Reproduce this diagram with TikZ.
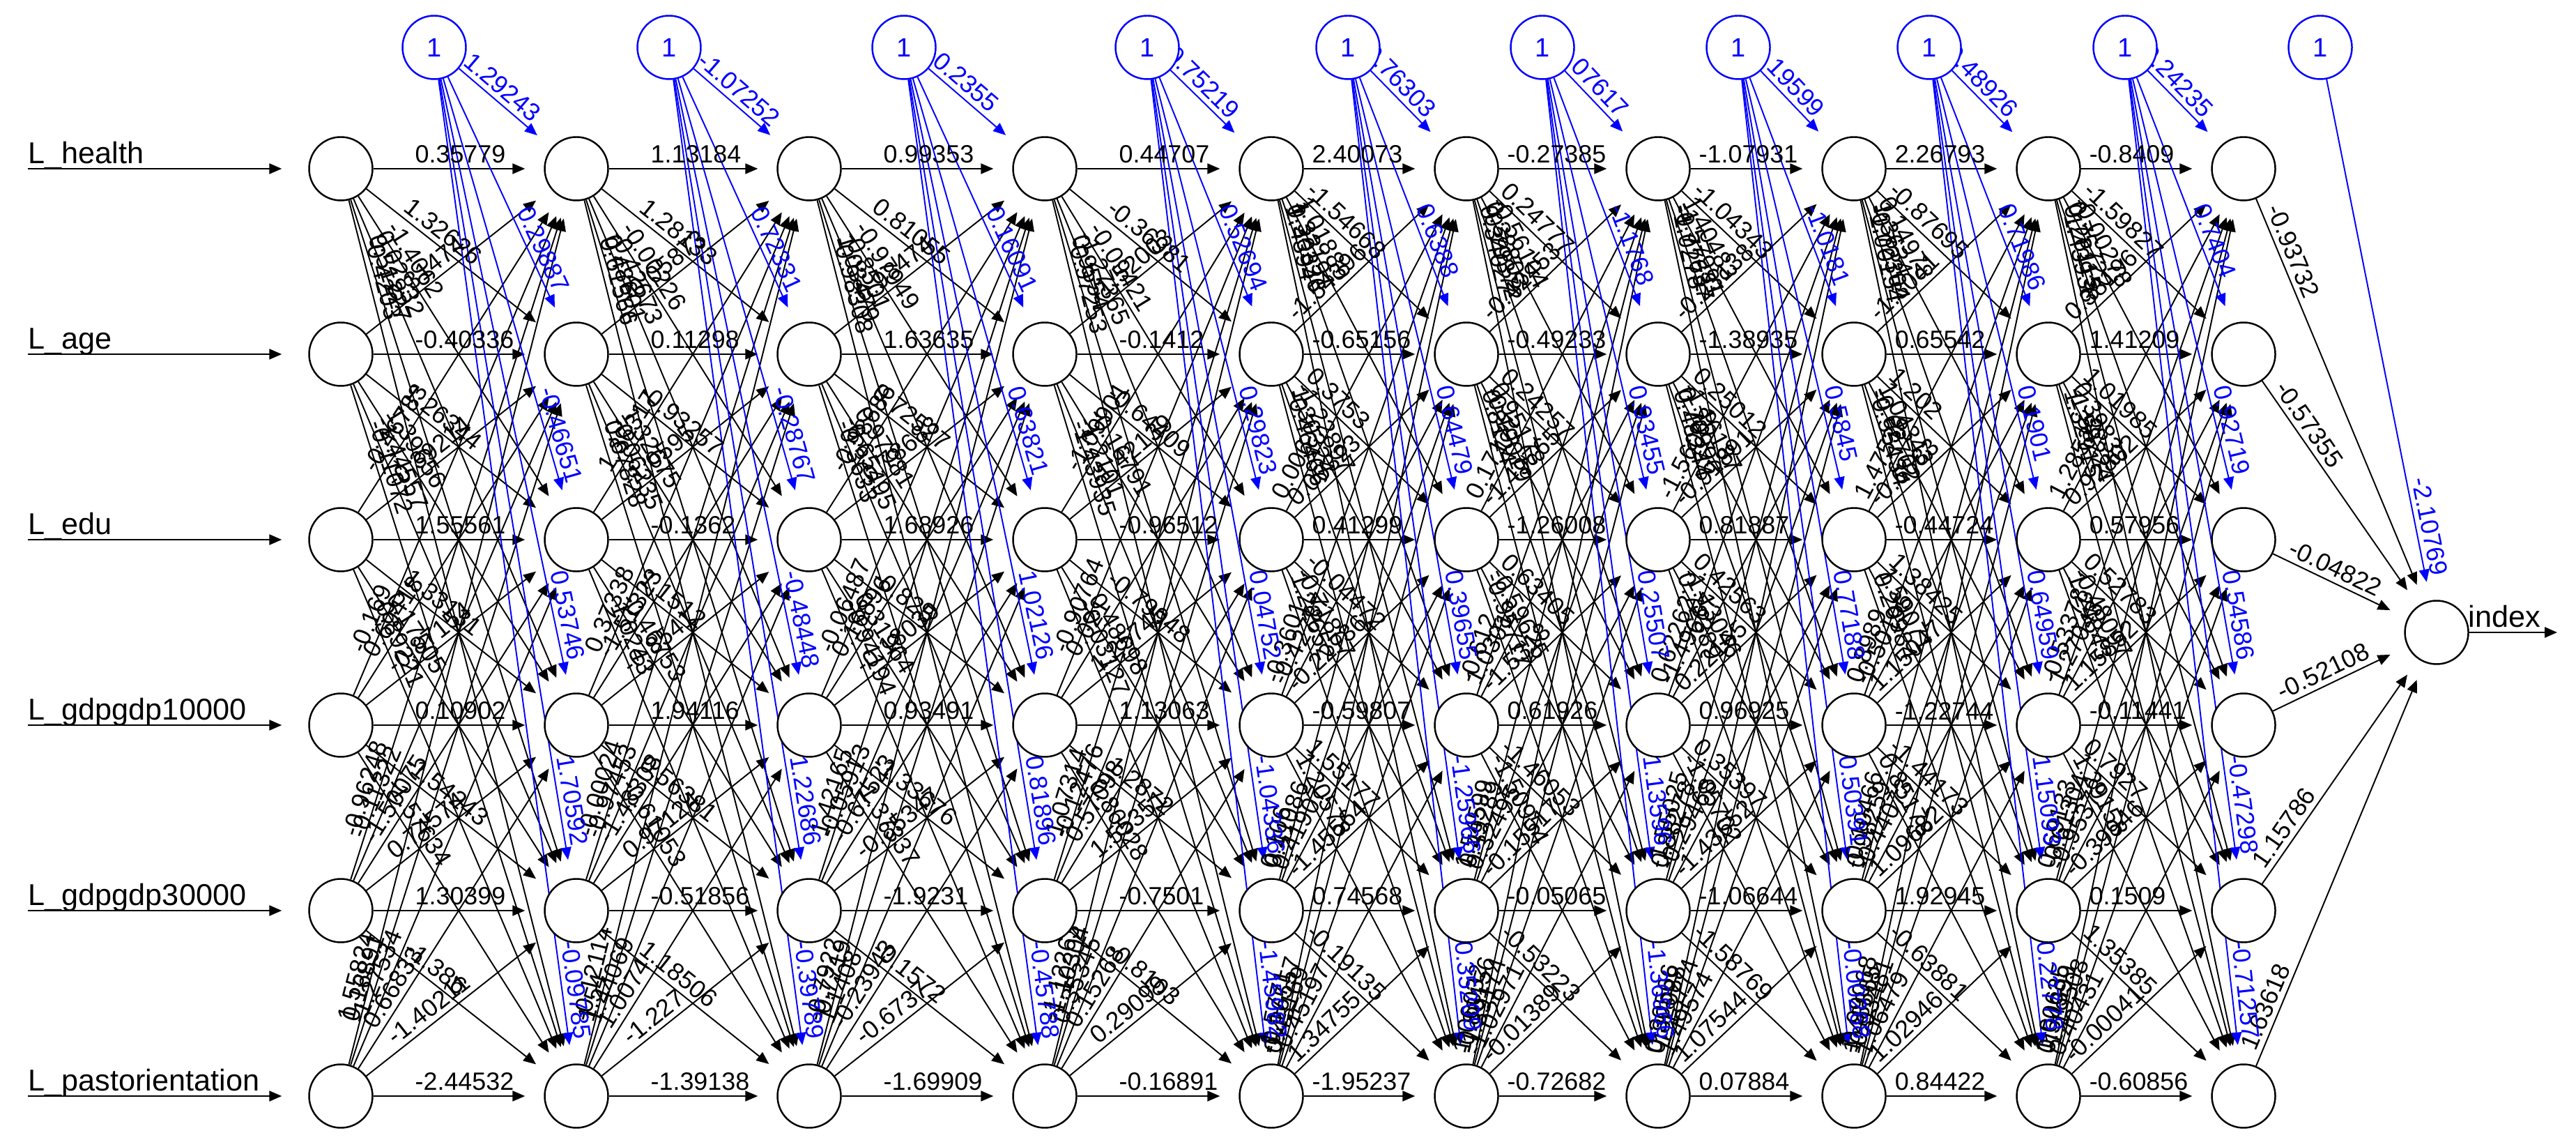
\documentclass[tikz,border=0pt]{standalone}
\usepackage{fontspec}
\setmainfont{Liberation Sans}
\usetikzlibrary{arrows.meta}
\pgfdeclarelayer{bg}
\pgfsetlayers{bg,main}
\tikzset{
  neuron/.style={circle, draw=black, fill=white, line width=0.7pt, minimum size=0.91cm, inner sep=0pt},
  biasnode/.style={circle, draw=blue, fill=white, line width=0.7pt, minimum size=0.91cm, inner sep=0pt, text=blue, font=\fontsize{10.8}{12}\selectfont},
  syn/.style={draw=black, line width=0.55pt, -{Triangle[length=0.18cm,width=0.15cm]}, shorten >=0.27cm},
  bsyn/.style={syn, draw=blue},
  inarrow/.style={draw=black, line width=0.65pt, -{Triangle[length=0.18cm,width=0.15cm]}, shorten >=0.38cm},
  wlab/.style={font=\fontsize{10.2}{11}\selectfont, inner xsep=0pt, inner ysep=0.07cm, anchor=south west},
  blab/.style={wlab, text=blue},
  inlab/.style={font=\fontsize{12.3}{14}\selectfont, anchor=base west, inner sep=0pt},
}
% #1 name, #2 style, #3 xs, #4 ys, #5 xt, #6 yt, #7 distance from source, #8 text
\newcommand\putlab[8]{%
  \pgfmathsetmacro\lang{atan2((#6)-(#4),(#5)-(#3))}%
  \pgfmathsetmacro\lpx{(#3)+(#7)*cos(\lang)}%
  \pgfmathsetmacro\lpy{(#4)+(#7)*sin(\lang)}%
  \node[#2, rotate=\lang] (#1) at (\lpx,\lpy) {#8};%
}
\begin{document}
\begin{tikzpicture}
\useasboundingbox (0,0) rectangle (36.96,-16.35);
\def\LX{{4.89,8.27,11.61,14.99,18.24,21.04,23.79,26.60,29.39,32.19}}
\def\RY{{-2.42,-5.08,-7.74,-10.40,-13.06,-15.72}}
\def\BX{{6.23,9.60,12.97,16.46,19.34,22.13,24.94,27.68,30.49,33.29}}

% ---------- neurons ----------
\foreach \k in {0,...,9}{
  \foreach \i in {1,...,6}{
    \pgfmathsetmacro\x{\LX[\k]}
    \pgfmathsetmacro\y{\RY[\i-1]}
    \node[neuron] (n-\k-\i) at (\x,\y) {};
  }
}
\node[neuron] (out) at (34.96,-9.07) {};
\foreach \k in {1,...,10}{
  \pgfmathsetmacro\x{\BX[\k-1]}
  \node[biasnode] (b-\k) at (\x,-0.68) {1};
}

% ---------- inputs and output ----------
\foreach \i/\t in {1/L\_health,2/L\_age,3/L\_edu,4/L\_gdpgdp10000,5/L\_gdpgdp30000,6/L\_pastorientation}{
  \pgfmathsetmacro\y{\RY[\i-1]}
  \coordinate (s-\i) at (0.40,\y);
  \draw[inarrow] (s-\i) -- (n-0-\i);
  \node[inlab] (lab-\i) at (0.40,\y+0.075) {\t};
}
\coordinate (o-end) at (36.69,-9.07);
\draw[inarrow, shorten >=0pt] (out) -- (o-end);
\node[inlab] (idx) at (35.41,-9.0) {index};

\begin{pgfonlayer}{bg}
\fill[white] (0,0) rectangle (36.96,-16.35);
% ---------- synapses ----------
\foreach \k in {0,...,8}{
  \pgfmathtruncatemacro\kn{\k+1}
  \foreach \i in {1,...,6}{
    \foreach \j in {1,...,6}{
      \draw[syn] (n-\k-\i) -- (n-\kn-\j);
    }
  }
  \foreach \j in {1,...,6}{
    \draw[bsyn] (b-\kn) -- (n-\kn-\j);
  }
}
\foreach \i in {1,...,6}{ \draw[syn] (n-9-\i) -- (out); }
\draw[bsyn] (b-10) -- (out);

% ---------- diagonal weight labels ----------
\pgfmathsetseed{4711}
\foreach \k in {0,...,8}{
  \pgfmathtruncatemacro\kn{\k+1}
  \pgfmathsetmacro\xs{\LX[\k]}
  \pgfmathsetmacro\xt{\LX[\kn]}
  \pgfmathsetmacro\dd{\k<4 ? 1.06 : 0.58}
  \foreach \i in {1,...,6}{
    \foreach \j in {1,...,6}{
      \ifnum\i=\j\relax\else
        \pgfmathsetmacro\ys{\RY[\i-1]}
        \pgfmathsetmacro\yt{\RY[\j-1]}
        \pgfmathsetmacro\rv{1.6*rand}
        \putlab{w-\k-\i-\j}{wlab}{\xs}{\ys}{\xt}{\yt}{\dd}{\pgfmathprintnumber[fixed,precision=5,assume math mode=true]{\rv}}
      \fi
    }
  }
}

% ---------- horizontal weight labels ----------
\foreach \k/\i/\v in {
  0/1/0.35779,0/2/-0.40336,0/3/1.55561,0/4/0.10902,0/5/1.30399,0/6/-2.44532,
  1/1/1.13184,1/2/0.11298,1/3/-0.1362,1/4/1.94116,1/5/-0.51856,1/6/-1.39138,
  2/1/0.99353,2/2/1.63635,2/3/1.68926,2/4/0.93491,2/5/-1.9231,2/6/-1.69909,
  3/1/0.44707,3/2/-0.1412,3/3/-0.96512,3/4/1.13063,3/5/-0.7501,3/6/-0.16891,
  4/1/2.40073,4/2/-0.65156,4/3/0.41299,4/4/-0.59807,4/5/0.74568,4/6/-1.95237,
  5/1/-0.27385,5/2/-0.49233,5/3/-1.26008,5/4/0.61926,5/5/-0.05065,5/6/-0.72682,
  6/1/-1.07931,6/2/-1.38935,6/3/0.81887,6/4/0.96925,6/5/-1.06644,6/6/0.07884,
  7/1/2.26793,7/2/0.65542,7/3/-0.44724,7/4/-1.22744,7/5/1.92945,7/6/0.84422,
  8/1/-0.8409,8/2/1.41209,8/3/0.57956,8/4/-0.11441,8/5/0.1509,8/6/-0.60856}{
  \pgfmathtruncatemacro\kn{\k+1}
  \pgfmathsetmacro\xs{\LX[\k]}
  \pgfmathsetmacro\xt{\LX[\kn]}
  \pgfmathsetmacro\ys{\RY[\i-1]}
  \pgfmathsetmacro\dd{\k<4 ? 1.06 : 0.58}
  \putlab{w-\k-\i-\i}{wlab}{\xs}{\ys}{\xt}{\ys}{\dd}{\v}
}

% ---------- output weight labels ----------
\foreach \i/\v in {1/-0.93732,2/-0.57355,3/-0.04822,4/-0.52108,5/1.15786,6/1.63618}{
  \pgfmathsetmacro\ys{\RY[\i-1]}
  \putlab{wo-\i}{wlab}{32.19}{\ys}{34.96}{-9.07}{0.65}{\v}
}

% ---------- bias weight labels ----------
\foreach \k/\j/\v in {
  1/1/1.29243,1/2/0.29887,1/3/-0.46651,1/4/0.53746,1/5/1.70592,1/6/-0.09785,
  2/1/-1.07252,2/2/0.72331,2/3/-0.28767,2/4/-0.48448,2/5/1.22686,2/6/-0.39789,
  3/1/0.2355,3/2/0.16091,3/3/0.63821,3/4/1.02126,3/5/0.81896,3/6/-0.45788,
  4/1/0.75219,4/2/0.52694,4/3/0.29823,4/4/0.04752,4/5/-1.04336,4/6/-1.45982,
  5/1/0.76303,5/2/0.6388,5/3/0.64479,5/4/0.39655,5/5/-1.25966,5/6/0.35209,
  6/1/0.07617,6/2/-1.1768,6/3/0.93455,6/4/0.25507,6/5/1.13596,6/6/-1.36966,
  7/1/0.19599,7/2/-1.0181,7/3/0.5845,7/4/0.77188,7/5/0.50391,7/6/-0.00268,
  8/1/0.48926,8/2/0.71986,8/3/0.1901,8/4/0.64959,8/5/1.15093,8/6/0.22778,
  9/1/0.24235,9/2/0.7404,9/3/0.92719,9/4/0.54586,9/5/-0.47298,9/6/-0.71257}{
  \pgfmathsetmacro\xs{\BX[\k-1]}
  \pgfmathsetmacro\xt{\LX[\k]}
  \pgfmathsetmacro\yt{\RY[\j-1]}
  \pgfmathsetmacro\bd{veclen((\xt)-(\xs),(\yt)+0.68)-2.22}
  \putlab{bw-\k-\j}{blab}{\xs}{-0.68}{\xt}{\yt}{\bd}{\v}
}
\putlab{bwo}{blab}{33.29}{-0.68}{34.96}{-9.07}{6.33}{-2.10769}
\end{pgfonlayer}
\end{tikzpicture}
\end{document}
